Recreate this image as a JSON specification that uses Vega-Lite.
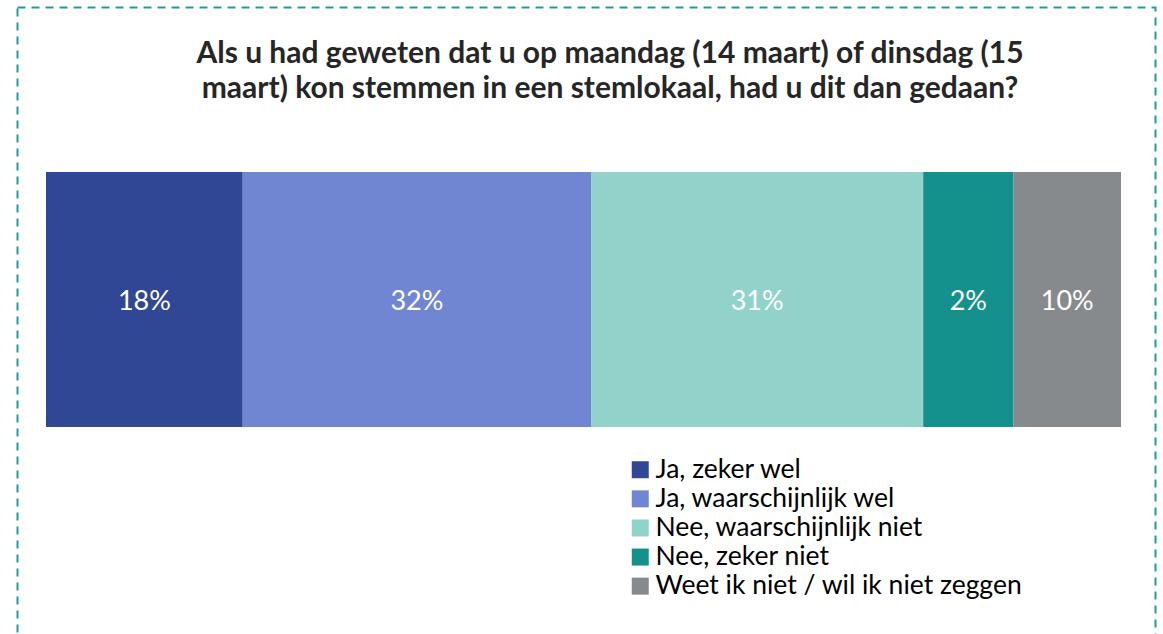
{
  "$schema": "https://vega.github.io/schema/vega-lite/v6.json",
  "autosize": {"type": "none"},
  "padding": {"left": 17.5, "top": 7.5, "right": 7.5, "bottom": -4},
  "width": 1138,
  "height": 630.5,
  "background": "white",
  "title": {
    "text": ["Als u had geweten dat u op maandag (14 maart) of dinsdag (15", "maart) kon stemmen in een stemlokaal, had u dit dan gedaan?"],
    "anchor": "middle",
    "orient": "top",
    "offset": -96,
    "dx": 23.5,
    "font": "Lato",
    "fontSize": 30,
    "fontWeight": "bold",
    "color": "#262626",
    "lineHeight": 35
  },
  "data": {
    "values": [
      {"q": "Stemlokaal", "category": "Ja, zeker wel", "idx": 1, "value": 18.3, "label": "18%"},
      {"q": "Stemlokaal", "category": "Ja, waarschijnlijk wel", "idx": 2, "value": 32.4, "label": "32%"},
      {"q": "Stemlokaal", "category": "Nee, waarschijnlijk niet", "idx": 3, "value": 30.9, "label": "31%"},
      {"q": "Stemlokaal", "category": "Nee, zeker niet", "idx": 4, "value": 8.4, "label": "2%"},
      {"q": "Stemlokaal", "category": "Weet ik niet / wil ik niet zeggen", "idx": 5, "value": 10.0, "label": "10%"}
    ]
  },
  "encoding": {
    "y": {
      "field": "q",
      "type": "nominal",
      "axis": null,
      "scale": {"paddingInner": 0, "paddingOuter": 0.7363, "align": 0.4381}
    }
  },
  "layer": [
    {
      "mark": {"type": "bar", "stroke": null},
      "encoding": {
        "x": {
          "field": "value",
          "type": "quantitative",
          "stack": "zero",
          "axis": null,
          "scale": {"domain": [-2.651, 103.209], "nice": false, "zero": false}
        },
        "order": {"field": "idx", "type": "quantitative"},
        "color": {
          "field": "category",
          "type": "nominal",
          "scale": {
            "domain": ["Ja, zeker wel", "Ja, waarschijnlijk wel", "Nee, waarschijnlijk niet", "Nee, zeker niet", "Weet ik niet / wil ik niet zeggen"],
            "range": ["#2F4794", "#7186D2", "#91D3CA", "#15918D", "#878A8D"]
          },
          "legend": {
            "title": null,
            "orient": "none",
            "legendX": 609.5,
            "legendY": 449,
            "symbolType": "square",
            "symbolSize": 289,
            "symbolStrokeWidth": 0,
            "symbolOpacity": 1,
            "labelFont": "Lato",
            "labelFontSize": 26.5,
            "labelColor": "#000000",
            "labelOffset": 2,
            "labelLimit": 600,
            "rowPadding": 2.1,
            "padding": 0
          }
        }
      }
    },
    {
      "mark": {"type": "text", "color": "white", "font": "Lato", "fontSize": 27, "baseline": "middle", "align": "center", "dy": 2},
      "encoding": {
        "x": {
          "field": "value",
          "type": "quantitative",
          "stack": "zero",
          "bandPosition": 0.5
        },
        "order": {"field": "idx", "type": "quantitative"},
        "detail": {"field": "category", "type": "nominal"},
        "text": {"field": "label", "type": "nominal"}
      }
    }
  ],
  "config": {
    "view": {"stroke": "#1F9E97", "strokeWidth": 2, "strokeDash": [8, 6]}
  }
}
